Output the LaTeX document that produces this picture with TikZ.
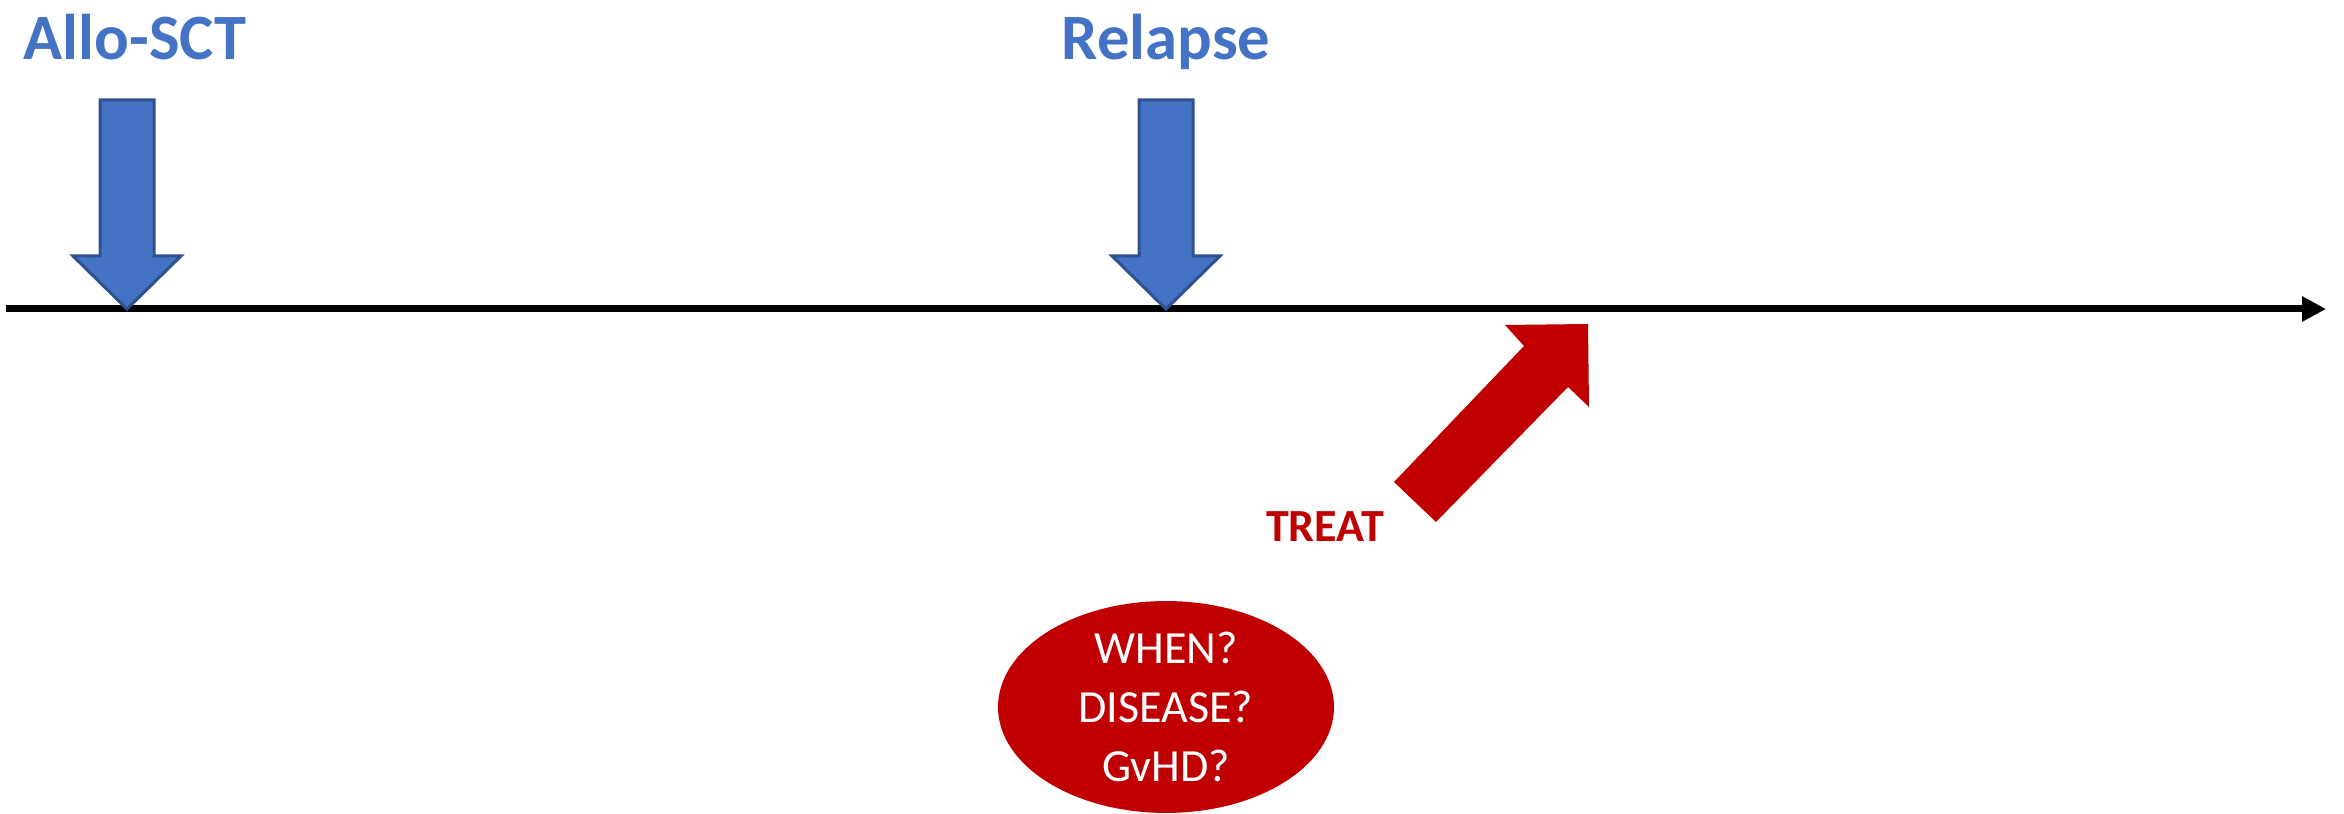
\documentclass[tikz,border=0pt]{standalone}
\usepackage{fontspec}
\setmainfont{Carlito}
\usetikzlibrary{arrows.meta,shapes.geometric}
\definecolor{eventblue}{HTML}{4472C4}
\definecolor{eventedge}{HTML}{2F528F}
\definecolor{treatred}{HTML}{C00000}
\tikzset{
  event/.style={font=\fontsize{18.4}{22}\selectfont\bfseries, text=eventblue, anchor=base, inner sep=0pt},
  downarrow/.style={fill=eventblue, draw=eventedge, line width=0.3mm, line join=miter},
  timeline/.style={line width=0.7mm, -{Triangle[length=2.4mm,width=2.4mm]}},
}

\begin{document}
\begin{tikzpicture}[x=0.1mm,y=-0.1mm]
  \useasboundingbox (0,0) rectangle (2344,814);
  \node[event] (allo) at (135,60) {Allo-SCT};
  \node[event] (relapse) at (1166,60) {Relapse};

  \coordinate (start) at (6,309);
  \coordinate (end) at (2326,309);
  \draw[timeline] (start) -- (end);

  \foreach \x in {127,1166}
    \draw[downarrow] (\x,309) -- (\x-54,256) -- (\x-27,256) -- (\x-27,100) -- (\x+27,100) -- (\x+27,256) -- (\x+54,256) -- cycle;

  \fill[treatred] (1394,482) -- (1524,346) -- (1505,325) -- (1588,324) -- (1589,407) -- (1568,387) -- (1436,522) -- cycle;
  \node[anchor=base, inner sep=0pt, text=treatred, font=\fontsize{13.1}{16}\selectfont\bfseries] (treat) at (1325,542) {TREAT};
  \node[ellipse, fill=treatred, text=white, minimum width=33.6mm, minimum height=20.2mm, inner sep=0pt, align=center, font=\fontsize{13.1}{16.8}\selectfont] (q) at (1166,707) {WHEN?\\DISEASE?\\GvHD?};
\end{tikzpicture}
\end{document}
